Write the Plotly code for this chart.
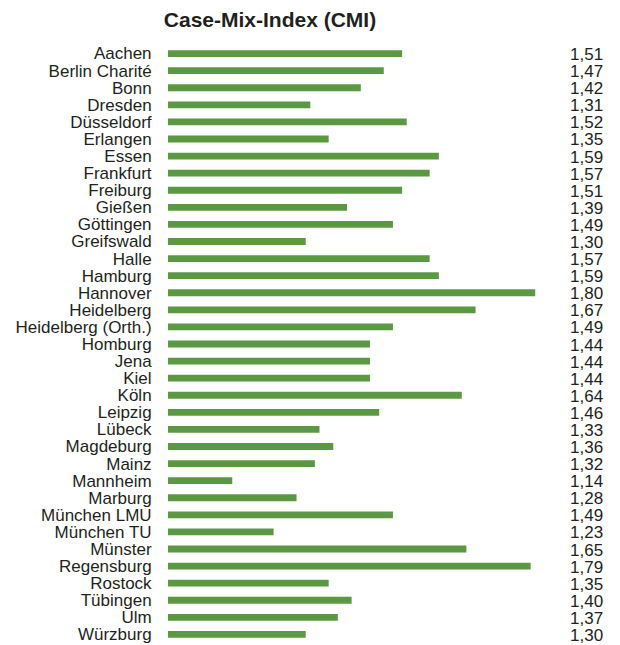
import plotly.graph_objects as go

categories = ["Aachen", "Berlin Charité", "Bonn", "Dresden", "Düsseldorf", "Erlangen",
              "Essen", "Frankfurt", "Freiburg", "Gießen", "Göttingen", "Greifswald",
              "Halle", "Hamburg", "Hannover", "Heidelberg", "Heidelberg (Orth.)",
              "Homburg", "Jena", "Kiel", "Köln", "Leipzig", "Lübeck", "Magdeburg",
              "Mainz", "Mannheim", "Marburg", "München LMU", "München TU", "Münster",
              "Regensburg", "Rostock", "Tübingen", "Ulm", "Würzburg"]
cmi_values = [1.51, 1.47, 1.42, 1.31, 1.52, 1.35, 1.59, 1.57, 1.51, 1.39, 1.49, 1.30,
              1.57, 1.59, 1.80, 1.67, 1.49, 1.44, 1.44, 1.44, 1.64, 1.46, 1.33, 1.36,
              1.32, 1.14, 1.28, 1.49, 1.23, 1.65, 1.79, 1.35, 1.40, 1.37, 1.30]
title_text = "Case-Mix-Index (CMI)"
axis_base = 1.0

value_labels = [f"{v:.2f}".replace(".", ",") for v in cmi_values]

FONT = "Liberation Sans, Arial"
TXT = "#231f20"

fig = go.Figure(go.Bar(
    y=categories,
    x=[v - axis_base for v in cmi_values],
    base=axis_base,
    orientation="h",
    marker=dict(color="#5a9842", line=dict(width=0)),
    width=0.4,
    hoverinfo="skip",
))

for cat, lab in zip(categories, value_labels):
    fig.add_annotation(x=1, xref="paper", y=cat, yref="y", text=lab,
                       showarrow=False, xanchor="right", yshift=-1,
                       font=dict(family=FONT, size=17, color=TXT))

fig.update_layout(
    width=612, height=637,
    margin=dict(l=160, r=15, t=37, b=2),
    paper_bgcolor="white", plot_bgcolor="white",
    showlegend=False,
    title=dict(text=f"<b>{title_text}</b>", x=262 / 612, xanchor="center",
               y=1 - 12 / 637, yanchor="middle",
               font=dict(family=FONT, size=21, color=TXT)),
    xaxis=dict(range=[1.0, 1.952], visible=False, fixedrange=True, automargin=False),
    yaxis=dict(range=[len(categories) - 0.5, -0.5], showgrid=False, showline=False,
               zeroline=False,
               tickmode="array", tickvals=categories, ticktext=categories,
               ticks="outside", ticklen=12, tickcolor="rgba(0,0,0,0)",
               tickfont=dict(family=FONT, size=17, color=TXT),
               fixedrange=True, automargin=False),
)

fig.write_html("out.html")
